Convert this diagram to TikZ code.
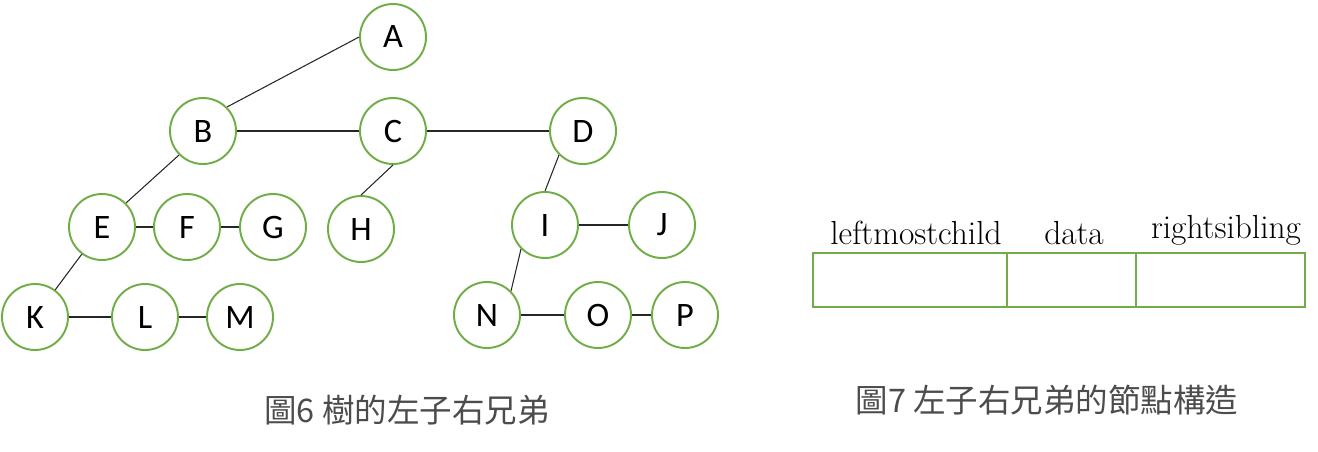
\documentclass[tikz,border=0pt]{standalone}
\usepackage{fontspec}
\newfontfamily\lettersf{Carlito}
\newfontfamily\cjk{Noto Sans CJK TC}
\usetikzlibrary{positioning}
\definecolor{ogreen}{RGB}{112,173,71}

\begin{document}
\begin{tikzpicture}[x=0.02cm,y=-0.02cm,
    vtx/.style={circle, draw=ogreen, line width=1.1pt, minimum size=1.32cm, inner sep=0pt, font=\lettersf\fontsize{19.5}{22}\selectfont},
    cell/.style={draw=ogreen, line width=1.1pt, minimum height=1.08cm, inner sep=0pt, outer sep=0pt},
    head/.style={anchor=base, font=\fontsize{19}{22}\selectfont},
    figcap/.style={font=\cjk\fontsize{18.5}{22}\selectfont, text=black!70}]
    \useasboundingbox (0,0) rectangle (1318,451);

    % tree
    \node [vtx] (A) at (393,37)  {A};
    \node [vtx] (B) at (203,131) {B};
    \node [vtx] (C) at (393,131) {C};
    \node [vtx] (D) at (583,131) {D};
    \node [vtx] (E) at (102,227) {E};
    \node [vtx] (F) at (187,227) {F};
    \node [vtx] (G) at (273,227) {G};
    \node [vtx] (H) at (361,229) {H};
    \node [vtx] (I) at (545,225) {I};
    \node [vtx] (J) at (662,225) {J};
    \node [vtx] (K) at (35,317)  {K};
    \node [vtx] (L) at (145,317) {L};
    \node [vtx] (M) at (240,317) {M};
    \node [vtx] (N) at (487,315) {N};
    \node [vtx] (O) at (598,315) {O};
    \node [vtx] (P) at (685,315) {P};

    \path[line width=0.6pt, draw=black!85]
        (A.west) edge (B.north east)
        (B) edge (C)  (C) edge (D)
        (B.south west) edge (E.north east)
        (E) edge (F)  (F) edge (G)
        (C.south) edge (H.north)
        (D.south west) edge (I.north)
        (I) edge (J)
        (E) edge (K)
        (K) edge (L)  (L) edge (M)
        (I.south west) edge (N.north east)
        (N) edge (O)  (O) edge (P);

    % node layout
    \node [cell, minimum width=3.88cm, anchor=north west] (lmc) at (813,253) {};
    \node [cell, minimum width=2.58cm, right=0pt of lmc] (dat) {};
    \node [cell, minimum width=3.38cm, right=0pt of dat] (rsib) {};
    \node [head] (lmcl) at (916,244)  {leftmostchild};
    \node [head] (datl) at (1074,244) {data};
    \node [head] (rsibl) at (1226,238) {rightsibling};

    \node [figcap] (cap6) at (407,410) {圖6 樹的左子右兄弟};
    \node [figcap] (cap7) at (1047,400) {圖7 左子右兄弟的節點構造};
\end{tikzpicture}
\end{document}
